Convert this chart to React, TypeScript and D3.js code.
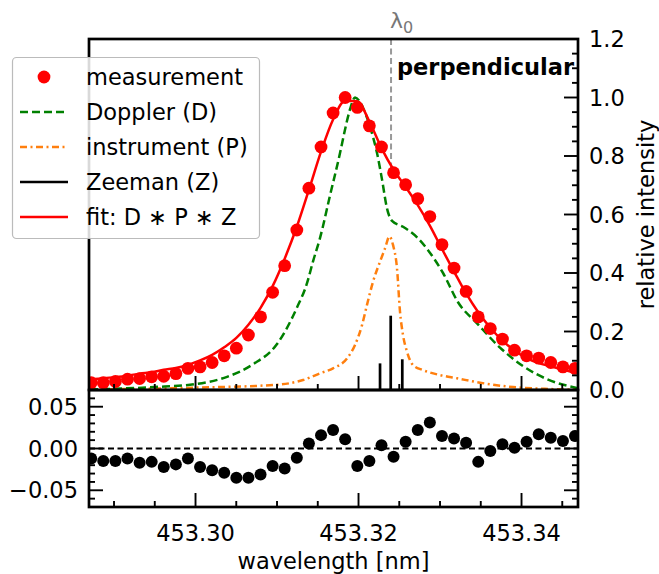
import React from "react";
import * as d3 from "d3";

// ---- data ----
const WAVELENGTH = [
  453.2872, 453.28868, 453.29017, 453.29165, 453.29314, 453.29462, 453.2961, 453.29759,
  453.29907, 453.30056, 453.30204, 453.30352, 453.30501, 453.30649, 453.30798, 453.30946,
  453.31094, 453.31243, 453.31391, 453.3154, 453.31688, 453.31836, 453.31985, 453.32133,
  453.32282, 453.3243, 453.32578, 453.32727, 453.32875, 453.33024, 453.33172, 453.3332,
  453.33469, 453.33617, 453.33766, 453.33914, 453.34062, 453.34211, 453.34359, 453.34508,
  453.34656,
];
const MEASUREMENT = [
  0.025, 0.025, 0.029, 0.037, 0.039, 0.045, 0.047, 0.056, 0.074, 0.079, 0.094, 0.117,
  0.143, 0.188, 0.25, 0.334, 0.425, 0.547, 0.69, 0.831, 0.947, 1.0, 0.966, 0.903, 0.831,
  0.743, 0.702, 0.654, 0.593, 0.497, 0.417, 0.337, 0.25, 0.21, 0.174, 0.136, 0.117, 0.109,
  0.094, 0.079, 0.074,
];
const FIT = [
  0.037, 0.04, 0.044, 0.049, 0.056, 0.061, 0.069, 0.075, 0.086, 0.101, 0.12, 0.146, 0.178,
  0.223, 0.281, 0.355, 0.449, 0.558, 0.684, 0.815, 0.925, 0.989, 0.987, 0.918, 0.827, 0.753,
  0.694, 0.632, 0.562, 0.482, 0.405, 0.33, 0.266, 0.213, 0.169, 0.135, 0.109, 0.092, 0.081,
  0.07, 0.059,
];
const RESIDUAL = [
  -0.012, -0.015, -0.015, -0.012, -0.017, -0.016, -0.022, -0.019, -0.012, -0.022, -0.026,
  -0.029, -0.035, -0.035, -0.031, -0.021, -0.024, -0.011, 0.006, 0.016, 0.022, 0.011, -0.021,
  -0.015, 0.004, -0.01, 0.008, 0.022, 0.031, 0.015, 0.012, 0.007, -0.016, -0.003, 0.005,
  0.001, 0.008, 0.017, 0.013, 0.009, 0.015,
];
const DOPPLER_WL = [
  453.28706, 453.29491, 453.29994, 453.30387, 453.30706, 453.31, 453.31245, 453.31368,
  453.31442, 453.31528, 453.3165, 453.31773, 453.31834, 453.31896, 453.31957, 453.32018,
  453.32092, 453.32178, 453.32227, 453.32288, 453.3235, 453.32411, 453.32546, 453.32718,
  453.32853, 453.33037, 453.33221, 453.33454, 453.33736, 453.34018, 453.34313, 453.34693,
];
const DOPPLER = [
  0.002, 0.01, 0.02, 0.045, 0.088, 0.157, 0.282, 0.365, 0.44, 0.52, 0.665, 0.81, 0.89, 0.96,
  1.0, 0.985, 0.94, 0.865, 0.81, 0.72, 0.62, 0.578, 0.558, 0.522, 0.478, 0.4, 0.3, 0.228,
  0.145, 0.082, 0.037, 0.006,
];
const INSTR_WL = [
  453.28706, 453.29994, 453.31, 453.31319, 453.31528, 453.31687, 453.31859, 453.31957,
  453.32043, 453.32104, 453.32178, 453.32264, 453.32325, 453.3238, 453.32423, 453.32472,
  453.32509, 453.32546, 453.32595, 453.32669, 453.32791, 453.33, 453.33209, 453.33491,
  453.33896, 453.34288, 453.34693,
];
const INSTR = [
  0.002, 0.008, 0.018, 0.034, 0.057, 0.074, 0.108, 0.154, 0.222, 0.291, 0.37, 0.439, 0.484,
  0.525, 0.496, 0.416, 0.268, 0.188, 0.131, 0.085, 0.068, 0.051, 0.04, 0.025, 0.01, 0.004,
  0.001,
];
const ZEEMAN_WL = [453.32264, 453.32395, 453.32537];
const ZEEMAN = [0.091, 0.254, 0.105];
const LAMBDA0 = 453.32399;
const LAMBDA0_LINE_END = 0.72;

const X_TICKS = [453.3, 453.32, 453.34];
const X_TICK_LABELS = ["453.30", "453.32", "453.34"];
const Y_TICKS = [0, 0.2, 0.4, 0.6, 0.8, 1.0, 1.2];
const Y_TICK_LABELS = ["0.0", "0.2", "0.4", "0.6", "0.8", "1.0", "1.2"];
const R_TICKS = [0.05, 0, -0.05];
const R_TICK_LABELS = ["0.05", "0.00", "\u22120.05"];

const LEGEND_LABELS = ["measurement", "Doppler (D)", "instrument (P)", "Zeeman (Z)", "fit: D \u2217 P \u2217 Z"];

const FONT = "DejaVu Sans, sans-serif";
const FS = 22.5;

export default function App() {
  const L = 89, R = 578, T = 39, M = 390, B = 507;
  const x = d3.scaleLinear().domain([453.28693, 453.34693]).range([L, R]);
  const y = d3.scaleLinear().domain([0, 1.2]).range([M, T]);
  const yr = d3.scaleLinear().domain([-0.07, 0.07]).range([B, M]);

  const line = (xs: number[], ys: number[]) =>
    d3
      .line<number>()
      .x((_, i) => x(xs[i]))
      .y((v) => y(v))
      .curve(d3.curveMonotoneX)(ys) as string;

  const xMinor = d3.range(453.29, 453.3470, 0.005).filter(
    (v) => !X_TICKS.some((t) => Math.abs(t - v) < 1e-6)
  );
  const yMinor = d3.range(0, 1.2001, 0.05).filter(
    (v) => !Y_TICKS.some((t) => Math.abs(t - v) < 1e-6)
  );
  const rMinor = d3.range(-0.07, 0.0701, 0.01).filter(
    (v) => !R_TICKS.some((t) => Math.abs(t - v) < 1e-6) && Math.abs(v) < 0.0695
  );

  const MAJ = 14, MIN = 6, TW = 1.9;
  const legendRows = [77, 112, 147, 182, 217];

  return (
    <svg width={659} height={574} style={{ position: "absolute", left: 0, top: 0 }} fontFamily={FONT}>
      <defs>
        <clipPath id="topclip">
          <rect x={L} y={T} width={R - L} height={M - T} />
        </clipPath>
        <clipPath id="botclip">
          <rect x={L} y={M} width={R - L} height={B - M} />
        </clipPath>
      </defs>
      <rect x={0} y={0} width={659} height={574} fill="white" />

      {/* top panel content */}
      <g clipPath="url(#topclip)">
        <line
          x1={x(LAMBDA0)} x2={x(LAMBDA0)} y1={T} y2={y(LAMBDA0_LINE_END)}
          stroke="#999999" strokeWidth={2} strokeDasharray="6,3.5"
        />
        {ZEEMAN_WL.map((w, i) => (
          <line key={i} x1={x(w)} x2={x(w)} y1={y(0)} y2={y(ZEEMAN[i])} stroke="black" strokeWidth={2.7} />
        ))}
        <path d={line(INSTR_WL, INSTR)} fill="none" stroke="#ff7f0e" strokeWidth={2.5} strokeDasharray="7,3.5,2,3.5" />
        <path d={line(DOPPLER_WL, DOPPLER)} fill="none" stroke="#008000" strokeWidth={2.5} strokeDasharray="8,4" />
        <path d={line(WAVELENGTH, FIT)} fill="none" stroke="#ff0000" strokeWidth={2.5} />
        {WAVELENGTH.map((w, i) => (
          <circle key={i} cx={x(w)} cy={y(MEASUREMENT[i])} r={6.4} fill="#ff0000" />
        ))}
      </g>

      {/* bottom panel content */}
      <g clipPath="url(#botclip)">
        <line x1={L} x2={R} y1={yr(0)} y2={yr(0)} stroke="black" strokeWidth={1.8} strokeDasharray="6,3.5" />
        {WAVELENGTH.map((w, i) => (
          <circle key={i} cx={x(w)} cy={yr(RESIDUAL[i])} r={6} fill="black" />
        ))}
      </g>

      {/* ticks */}
      <g stroke="black" strokeWidth={TW}>
        {X_TICKS.map((t) => (
          <g key={"tx" + t}>
            <line x1={x(t)} x2={x(t)} y1={M} y2={M - MAJ} />
            <line x1={x(t)} x2={x(t)} y1={B} y2={B - MAJ} />
          </g>
        ))}
        {xMinor.map((t) => (
          <g key={"mx" + t}>
            <line x1={x(t)} x2={x(t)} y1={M} y2={M - MIN} />
            <line x1={x(t)} x2={x(t)} y1={B} y2={B - MIN} />
          </g>
        ))}
        {Y_TICKS.map((t) => (
          <line key={"ty" + t} x1={R} x2={R - MAJ} y1={y(t)} y2={y(t)} />
        ))}
        {yMinor.map((t) => (
          <line key={"my" + t} x1={R} x2={R - MIN} y1={y(t)} y2={y(t)} />
        ))}
        {R_TICKS.map((t) => (
          <g key={"tr" + t}>
            <line x1={L} x2={L + MAJ} y1={yr(t)} y2={yr(t)} />
            <line x1={R} x2={R - MAJ} y1={yr(t)} y2={yr(t)} />
          </g>
        ))}
        {rMinor.map((t) => (
          <g key={"mr" + t}>
            <line x1={L} x2={L + MIN} y1={yr(t)} y2={yr(t)} />
            <line x1={R} x2={R - MIN} y1={yr(t)} y2={yr(t)} />
          </g>
        ))}
      </g>

      {/* spines */}
      <rect x={L} y={T} width={R - L} height={M - T} fill="none" stroke="black" strokeWidth={2.7} />
      <rect x={L} y={M} width={R - L} height={B - M} fill="none" stroke="black" strokeWidth={2.7} />

      {/* tick labels */}
      <g fontSize={FS} fill="black">
        {Y_TICKS.map((t, i) => (
          <text key={"ly" + t} x={589} y={y(t)} dy="0.36em">{Y_TICK_LABELS[i]}</text>
        ))}
        {R_TICKS.map((t, i) => (
          <text key={"lr" + t} x={78} y={yr(t)} dy="0.36em" textAnchor="end">{R_TICK_LABELS[i]}</text>
        ))}
        {X_TICKS.map((t, i) => (
          <text key={"lx" + t} x={x(t)} y={541} textAnchor="middle">{X_TICK_LABELS[i]}</text>
        ))}
        <text x={(L + R) / 2} y={569} textAnchor="middle">wavelength [nm]</text>
        <text transform={`translate(654,${(T + M) / 2}) rotate(-90)`} textAnchor="middle">relative intensity</text>
      </g>

      {/* lambda0 label */}
      <text x={x(LAMBDA0) - 1} y={28} fontSize={22} fill="#777777">
        λ<tspan fontSize={16} dy={5}>0</tspan>
      </text>

      {/* perpendicular */}
      <text x={574} y={75} fontSize={FS} fontWeight="bold" textAnchor="end">perpendicular</text>

      {/* legend */}
      <g>
        <rect x={12.5} y={57.5} width={247} height={181} rx={4} fill="white" fillOpacity={0.85} stroke="#bbbbbb" strokeWidth={1.2} />
        <circle cx={44} cy={legendRows[0]} r={6.4} fill="#ff0000" />
        <line x1={20} x2={68} y1={legendRows[1]} y2={legendRows[1]} stroke="#008000" strokeWidth={2.5} strokeDasharray="8,4" />
        <line x1={20} x2={68} y1={legendRows[2]} y2={legendRows[2]} stroke="#ff7f0e" strokeWidth={2.5} strokeDasharray="7,3.5,2,3.5" />
        <line x1={20} x2={68} y1={legendRows[3]} y2={legendRows[3]} stroke="black" strokeWidth={2.5} />
        <line x1={20} x2={68} y1={legendRows[4]} y2={legendRows[4]} stroke="#ff0000" strokeWidth={2.5} />
        {LEGEND_LABELS.map((s, i) => (
          <text key={s} x={86} y={legendRows[i]} dy="0.36em" fontSize={FS} fill="black">{s}</text>
        ))}
      </g>
    </svg>
  );
}
